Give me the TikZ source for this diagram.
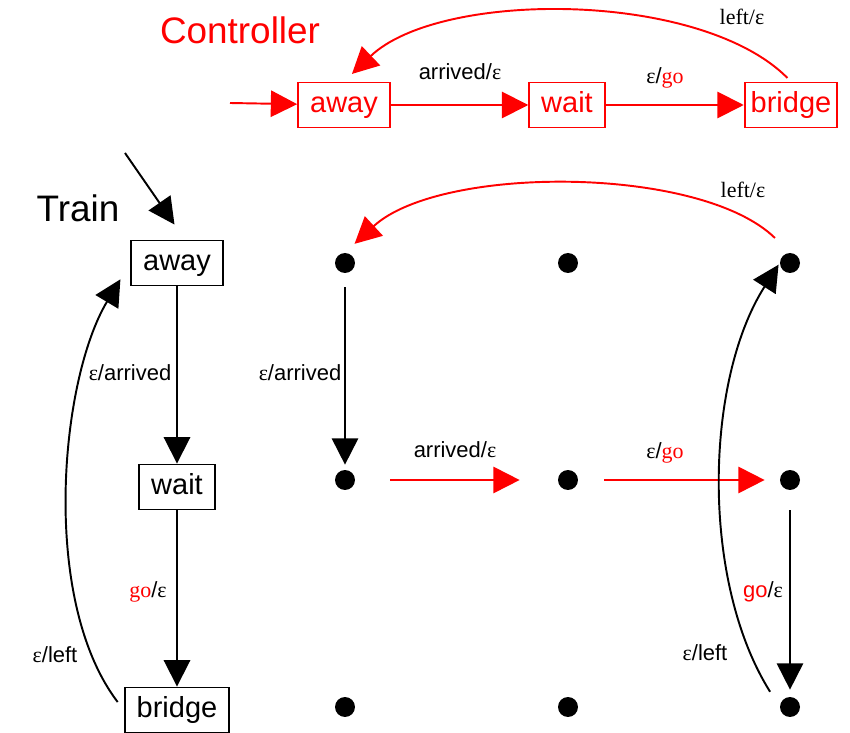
\documentclass[tikz,border=0pt]{standalone}
\usepackage{fontspec}
\setmainfont{Liberation Sans}
\newfontfamily\serifface{Liberation Serif}
\usetikzlibrary{arrows.meta}
\newcommand{\eps}{{\serifface ε}}
\newcommand{\goserif}{\textcolor{red}{\serifface go}}
\newcommand{\gosans}{\textcolor{red}{go}}

\begin{document}
\begin{tikzpicture}[x=0.02cm,y=-0.02cm,
    state/.style={draw,line width=1.1pt,minimum height=0.9cm,inner xsep=0.24cm,text height=12pt,text depth=3.6pt,font=\fontsize{16.5}{18}\selectfont},
    dot/.style={circle,fill,inner sep=0pt,minimum size=0.4cm},
    lbl/.style={font=\fontsize{12.5}{14}\selectfont},
    title/.style={font=\fontsize{21}{24}\selectfont},
    arr/.style={line width=1.1pt,arrows={-Triangle[length=15pt,width=15pt]}}]
    \useasboundingbox (0,0) rectangle (850,733);

    % controller
    \node[title,red] (ctitle) at (240,30) {Controller};
    \node[state,red] (c-away) at (344,105) {away};
    \node[state,red] (c-wait) at (567,105) {wait};
    \node[state,red,inner xsep=0.12cm] (c-bridge) at (791,105) {bridge};
    \coordinate (c-start) at (230,103);
    \draw[arr,red] (c-start) -- (c-away);
    \draw[arr,red] (c-away) -- (c-wait);
    \draw[arr,red] (c-wait) -- (c-bridge);
    \draw[arr,red,shorten <=0.1cm,shorten >=0.22cm] (c-bridge.north) .. controls (700,-10) and (440,-10) .. (c-away.north);
    \node[lbl] (cl1) at (460,72) {arrived/\eps};
    \node[lbl] (cl2) at (665,78) {\eps/\goserif};
    \node[lbl] (cl3) at (742,17) {\serifface left/ε};

    % train
    \node[title] (ttitle) at (78,208) {Train};
    \node[state] (t-away) at (177,263) {away};
    \node[state] (t-wait) at (177,487) {wait};
    \node[state] (t-bridge) at (177,710) {bridge};
    \coordinate (t-start) at (125,153);
    \draw[arr] (t-start) -- ([shift={(-0.05cm,0.3cm)}]t-away.north);
    \draw[arr] (t-away) -- (t-wait);
    \draw[arr] (t-wait) -- (t-bridge);
    \draw[arr,shorten <=0.2cm,shorten >=0.38cm] (t-bridge.west) .. controls (40,600) and (60,380) .. (t-away.west);
    \node[lbl] (tl1) at (130,373) {\eps/arrived};
    \node[lbl] (tl2) at (148,592) {\goserif/\eps};
    \node[lbl] (tl3) at (55,655) {\eps/left};

    % product
    \foreach \c/\x in {0/345,1/568,2/790}
        \foreach \r/\y in {0/263,1/480,2/707}
            \node[dot] (d\c\r) at (\x,\y) {};
    \draw[arr,shorten <=0.28cm,shorten >=0.1cm] (d00) -- (d01);
    \draw[arr,red,shorten <=0.7cm,shorten >=0.76cm] (d01) -- (d11);
    \draw[arr,red,shorten <=0.52cm,shorten >=0.3cm] (d11) -- (d21);
    \draw[arr,shorten <=0.4cm,shorten >=0.14cm] (d21) -- (d22);
    \draw[arr,shorten <=0.36cm,shorten >=0.04cm] (d22.west) .. controls (700,580) and (705,380) .. (d20.west);
    \draw[arr,red,shorten <=0.42cm,shorten >=0.26cm] (d20.north) .. controls (700,165) and (440,165) .. (d00.north);
    \node[lbl] (pl1) at (300,373) {\eps/arrived};
    \node[lbl] (pl2) at (455,450) {arrived/\eps};
    \node[lbl] (pl3) at (665,453) {\eps/\goserif};
    \node[lbl] (pl4) at (763,592) {\gosans/\eps};
    \node[lbl] (pl5) at (705,653) {\eps/left};
    \node[lbl] (pl6) at (743,190) {\serifface left/ε};
\end{tikzpicture}
\end{document}
